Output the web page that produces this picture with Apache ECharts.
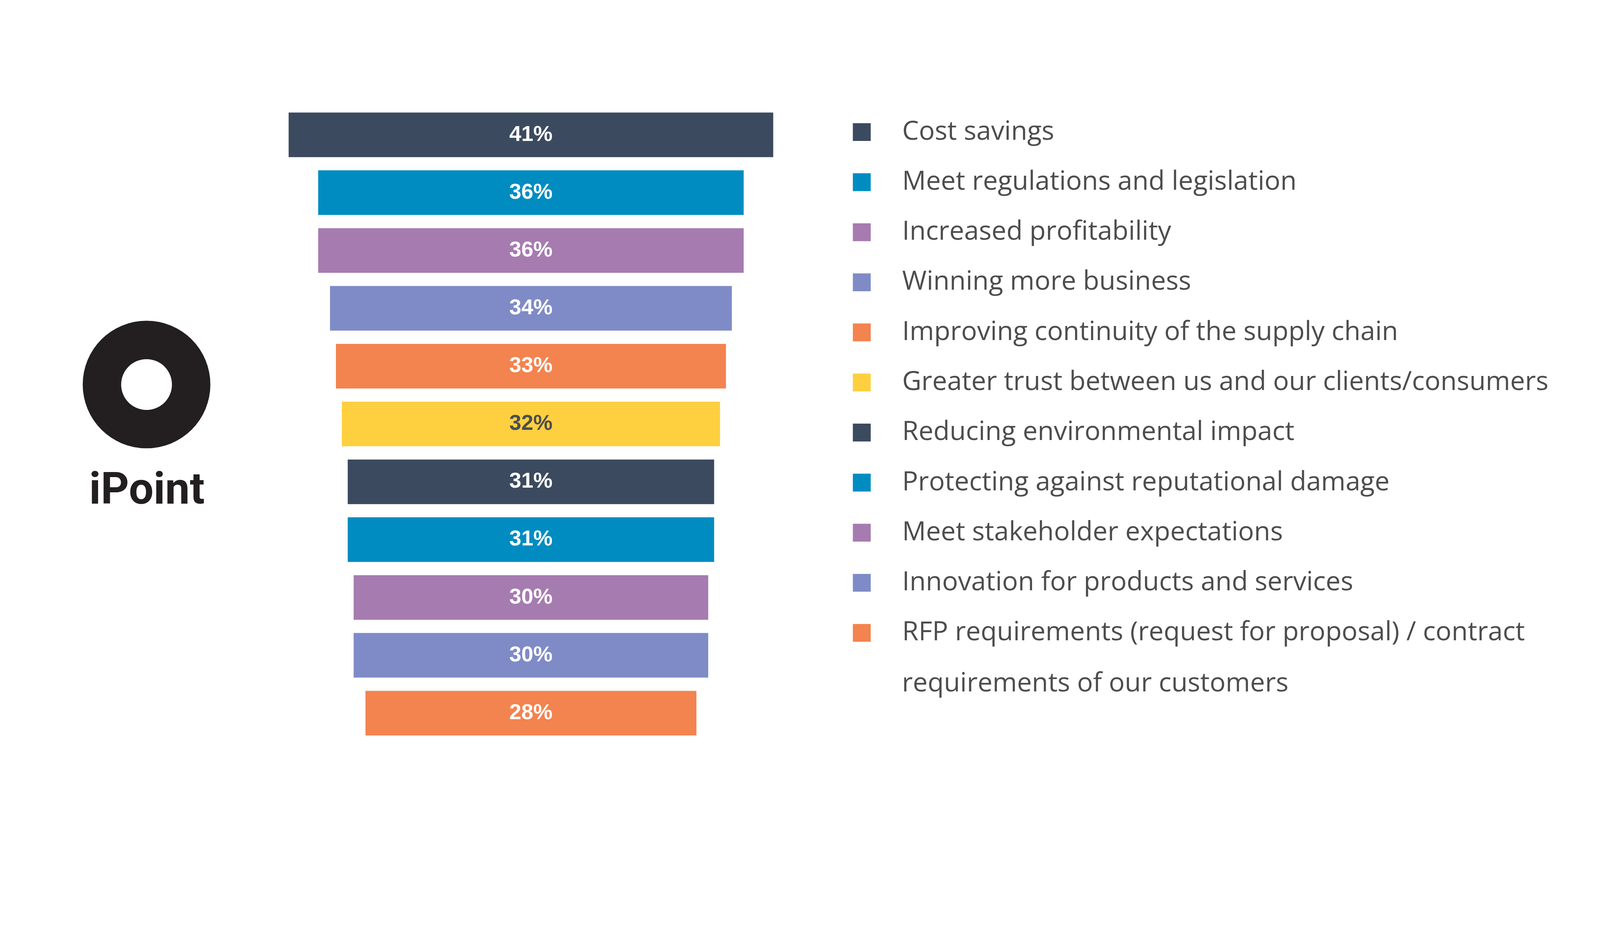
<!DOCTYPE html>
<html>
<head>
<meta charset="utf-8">
<script src="https://cdn.jsdelivr.net/npm/echarts@6/dist/echarts.min.js"></script>
<style>
html,body{margin:0;padding:0;background:#fff;overflow:hidden;}
#chart{width:100vw;height:100vh;}
</style>
</head>
<body>
<div id="chart"></div>
<script>
// ---- data ----
const categories = [
  'Cost savings',
  'Meet regulations and legislation',
  'Increased profitability',
  'Winning more business',
  'Improving continuity of the supply chain',
  'Greater trust between us and our clients/consumers',
  'Reducing environmental impact',
  'Protecting against reputational damage',
  'Meet stakeholder expectations',
  'Innovation for products and services',
  'RFP requirements (request for proposal) / contract\nrequirements of our customers'
];
const values = [41, 36, 36, 34, 33, 32, 31, 31, 30, 30, 28];

// ---- styles ----
const colors = ['#3C4A5F', '#008CC1', '#A67BB0', '#7F8BC6', '#F3834F', '#FED040',
                '#3C4A5F', '#008CC1', '#A67BB0', '#7F8BC6', '#F3834F'];
const labelColors = ['#fff', '#fff', '#fff', '#fff', '#fff', '#4d4d4f',
                     '#fff', '#fff', '#fff', '#fff', '#fff'];
const textColor = '#4d4d4f';
const legendFont = 'Open Sans';

const el = document.getElementById('chart');
const W = 4662, H = 2423;
const s = Math.min(el.clientWidth / W, el.clientHeight / H);
const P = v => v * s;

// fit legend font size to the reference text widths
const ctx = document.createElement('canvas').getContext('2d');
ctx.font = '100px "' + legendFont + '"';
const measured = ctx.measureText('Protecting against reputational damage').width +
                 ctx.measureText('Greater trust between us and our clients/consumers').width;
let legendSize = 100 * (1449 + 1855) / measured;
if (!isFinite(legendSize) || legendSize < 50 || legendSize > 100) legendSize = 76;

const maxValue = Math.max.apply(null, values);
const offsets = values.map(v => (maxValue - v) / 2);
const barW = P(130);

const series = [{
  name: '__offset',
  type: 'bar',
  stack: 'funnel',
  data: offsets,
  barWidth: barW,
  silent: true,
  itemStyle: { color: 'rgba(0,0,0,0)' },
  label: { show: false }
}];
categories.forEach((name, i) => {
  series.push({
    name: name,
    type: 'bar',
    stack: 'funnel',
    barWidth: barW,
    data: values.map((v, j) => (j === i ? v : '-')),
    itemStyle: { color: colors[i] },
    label: {
      show: true,
      position: 'inside',
      formatter: '{c}%',
      color: labelColors[i],
      fontFamily: 'Liberation Sans',
      fontWeight: 'bold',
      fontSize: P(63)
    }
  });
});

const lastLines = categories[categories.length - 1].split('\n');
const rowPitch = 146.0;
const row1 = 385;
const textShift = 14;

const chart = echarts.init(el, null, { renderer: 'canvas' });
chart.setOption({
  backgroundColor: '#ffffff',
  animation: false,
  grid: { left: P(841), top: P(308.7), width: P(1412), height: P(1854.6), containLabel: false },
  xAxis: { type: 'value', min: 0, max: maxValue, show: false },
  yAxis: { type: 'category', data: categories, inverse: true, show: false },
  legend: {
    orient: 'vertical',
    left: P(2485),
    top: P(row1 - rowPitch / 2),
    padding: 0,
    itemGap: 0,
    itemWidth: P(52),
    itemHeight: P(52),
    icon: 'rect',
    selectedMode: false,
    data: categories,
    formatter: name => name.split('\n')[0],
    textStyle: {
      fontFamily: legendFont,
      fontSize: P(legendSize),
      color: textColor,
      lineHeight: P(rowPitch - textShift),
      padding: [P(textShift), 0, 0, P(2628 - 2485 - 52 - 5)]
    }
  },
  graphic: [
    {
      type: 'text',
      x: P(2628),
      y: P(row1 + rowPitch * 11 + textShift / 2 - 4),
      style: {
        text: lastLines[1],
        fontFamily: legendFont,
        fontSize: P(legendSize),
        fill: textColor,
        verticalAlign: 'middle'
      }
    },
    {
      type: 'ring',
      shape: { cx: P(427), cy: P(1121), r: P(186), r0: P(74) },
      style: { fill: '#231f20' }
    },
    {
      type: 'text',
      x: P(428),
      y: P(1436),
      style: {
        text: 'iPoint',
        fontFamily: 'Roboto',
        fontWeight: 'bold',
        fontSize: P(128),
        fill: '#231f20',
        align: 'center',
        verticalAlign: 'middle'
      }
    }
  ],
  series: series
});
</script>
</body>
</html>
